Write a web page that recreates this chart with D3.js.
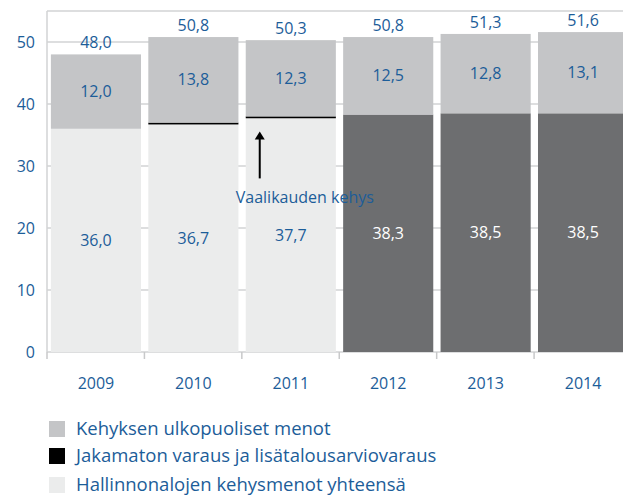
<!DOCTYPE html>
<html>
<head>
<meta charset="utf-8">
<script src="https://cdn.jsdelivr.net/npm/d3@7"></script>
<style>
  body { margin: 0; background: #fff; }
  svg text { font-family: "Open Sans", sans-serif; fill: #1c5d99; }
</style>
</head>
<body>
<div id="chart"></div>
<script>
var years = ['2009', '2010', '2011', '2012', '2013', '2014'];
var hallinnonalat = [36.0, 36.7, 37.7, 38.3, 38.5, 38.5];
var jakamaton = [0, 0.3, 0.3, 0, 0, 0];
var ulkopuoliset = [12.0, 13.8, 12.3, 12.5, 12.8, 13.1];
var totals = [48.0, 50.8, 50.3, 50.8, 51.3, 51.6];
var yTicks = [0, 10, 20, 30, 40, 50];
var legendNames = ['Kehyksen ulkopuoliset menot', 'Jakamaton varaus ja lisätalousarviovaraus', 'Hallinnonalojen kehysmenot yhteensä'];

var W = 623, H = 499;
var svg = d3.select('#chart').append('svg').attr('width', W).attr('height', H);

var x = d3.scaleBand().domain(years).range([47, 632]).paddingInner(0.075).paddingOuter(0.04);
var y = d3.scaleLinear().domain([0, 55]).range([352, 11]);
var fmt = function(v) { return v.toFixed(1).replace('.', ','); };

// gridlines
svg.append('g').selectAll('line').data(yTicks.concat([55])).enter().append('line')
  .attr('x1', 47).attr('x2', W)
  .attr('y1', function(d) { return y(d); }).attr('y2', function(d) { return y(d); })
  .attr('stroke', '#d2d3d4').attr('stroke-width', 1.5);
svg.append('line').attr('x1', 47).attr('x2', 47).attr('y1', y(55)).attr('y2', y(0))
  .attr('stroke', '#d2d3d4').attr('stroke-width', 1.5);

// bottom axis ticks
var step = x.step();
svg.append('g').selectAll('line').data(years).enter().append('line')
  .attr('x1', function(d, i) { return 47 + i * step; })
  .attr('x2', function(d, i) { return 47 + i * step; })
  .attr('y1', y(0)).attr('y2', y(0) + 7)
  .attr('stroke', '#c8c9ca').attr('stroke-width', 1.5);

var rows = years.map(function(d, i) {
  return { year: d, a: hallinnonalat[i], b: jakamaton[i], c: ulkopuoliset[i], t: totals[i], dark: i >= 3 };
});

var bars = svg.append('g').selectAll('g').data(rows).enter().append('g');
bars.append('rect')
  .attr('x', function(d) { return x(d.year); }).attr('width', x.bandwidth())
  .attr('y', function(d) { return y(d.a); })
  .attr('height', function(d) { return y(0) - y(d.a); })
  .attr('fill', function(d) { return d.dark ? '#6d6e70' : '#ebecec'; });
bars.append('rect')
  .attr('x', function(d) { return x(d.year); }).attr('width', x.bandwidth())
  .attr('y', function(d) { return y(d.a + d.b); })
  .attr('height', function(d) { return y(d.a) - y(d.a + d.b); })
  .attr('fill', '#000');
bars.append('rect')
  .attr('x', function(d) { return x(d.year); }).attr('width', x.bandwidth())
  .attr('y', function(d) { return y(d.a + d.b + d.c); })
  .attr('height', function(d) { return y(d.a + d.b) - y(d.a + d.b + d.c); })
  .attr('fill', '#c4c5c7');

// segment labels
bars.append('text')
  .attr('x', function(d) { return x(d.year) + x.bandwidth() / 2; })
  .attr('y', function(d) { return y(d.a / 2); })
  .attr('dy', '0.35em').attr('text-anchor', 'middle').style('font-size', '16px')
  .style('fill', function(d) { return d.dark ? '#fff' : '#1c5d99'; })
  .text(function(d) { return fmt(d.a); });
bars.append('text')
  .attr('x', function(d) { return x(d.year) + x.bandwidth() / 2; })
  .attr('y', function(d) { return y(d.a + d.b + d.c / 2); })
  .attr('dy', '0.35em').attr('text-anchor', 'middle').style('font-size', '16px')
  .text(function(d) { return fmt(d.c); });
bars.append('text')
  .attr('x', function(d) { return x(d.year) + x.bandwidth() / 2; })
  .attr('y', function(d) { return y(d.t) - 12; })
  .attr('dy', '0.35em').attr('text-anchor', 'middle').style('font-size', '16px')
  .text(function(d) { return fmt(d.t); });

// axis labels
svg.append('g').selectAll('text').data(yTicks).enter().append('text')
  .attr('x', 35).attr('y', function(d) { return y(d); }).attr('dy', '0.35em')
  .attr('text-anchor', 'end').style('font-size', '16px')
  .text(function(d) { return d; });
svg.append('g').selectAll('text').data(years).enter().append('text')
  .attr('x', function(d) { return x(d) + x.bandwidth() / 2; }).attr('y', 383).attr('dy', '0.35em')
  .attr('text-anchor', 'middle').style('font-size', '16px')
  .text(function(d) { return d; });

// annotation
var ax = x('2011') + 14;
svg.append('line').attr('x1', ax).attr('x2', ax).attr('y1', y(28)).attr('y2', y(34.6))
  .attr('stroke', '#000').attr('stroke-width', 2);
svg.append('path')
  .attr('d', 'M' + (ax - 5) + ',' + (y(34.6) + 2) + 'L' + ax + ',' + (y(34.6) - 6) + 'L' + (ax + 5) + ',' + (y(34.6) + 2) + 'Z')
  .attr('fill', '#000');
svg.append('text').attr('x', x('2011') - 10).attr('y', y(24.9)).attr('dy', '0.35em')
  .style('font-size', '16px').text('Vaalikauden kehys');

// legend
var legColors = ['#c4c5c7', '#000', '#ebecec'];
var leg = svg.append('g').selectAll('g').data(legendNames).enter().append('g')
  .attr('transform', function(d, i) { return 'translate(49,' + [429, 456, 485][i] + ')'; });
leg.append('rect').attr('x', 0).attr('y', -8).attr('width', 16).attr('height', 16)
  .attr('fill', function(d, i) { return legColors[i]; });
leg.append('text').attr('x', 27).attr('dy', '0.35em').style('font-size', '18.5px')
  .text(function(d) { return d; });
</script>
</body>
</html>
